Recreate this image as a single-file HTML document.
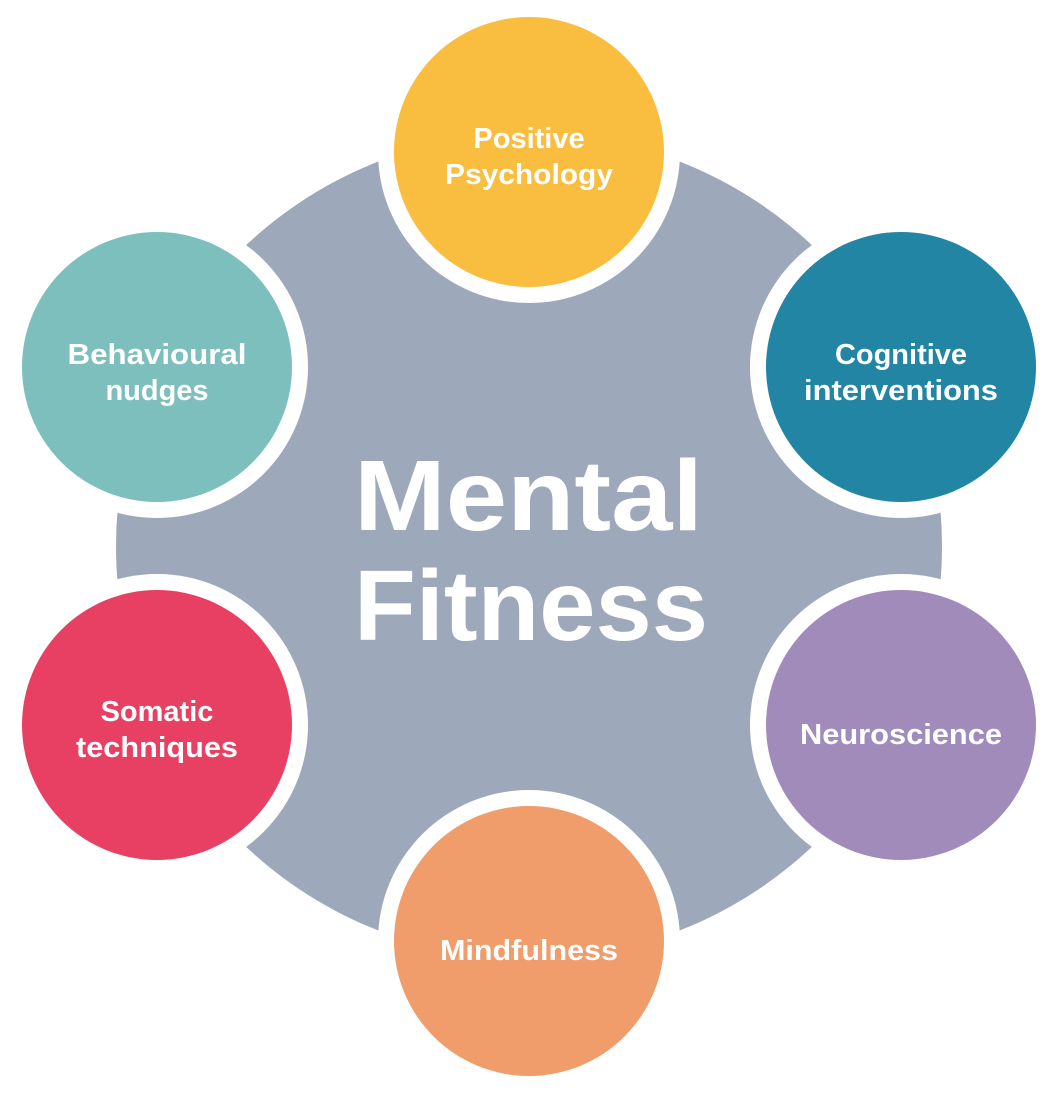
<!DOCTYPE html>
<html><head><meta charset="utf-8"><style>html,body{margin:0;padding:0;background:#fff}svg{display:block}</style></head>
<body>
<svg width="1059" height="1106" viewBox="0 0 1059 1106" xmlns="http://www.w3.org/2000/svg" font-family="Liberation Sans, sans-serif" font-weight="bold" fill="#fff">
<circle cx="529" cy="546" r="413" fill="#9DA9BB"/>
<g fill="#fff">
<circle cx="529" cy="152" r="151"/>
<circle cx="901" cy="367" r="151"/>
<circle cx="901" cy="725" r="151"/>
<circle cx="529" cy="941" r="151"/>
<circle cx="157" cy="725" r="151"/>
<circle cx="157" cy="367" r="151"/>
</g>
<circle cx="529" cy="152" r="135" fill="#F9BE40"/>
<circle cx="901" cy="367" r="135" fill="#2185A3"/>
<circle cx="901" cy="725" r="135" fill="#A08BBB"/>
<circle cx="529" cy="941" r="135" fill="#F09C6B"/>
<circle cx="157" cy="725" r="135" fill="#E84063"/>
<circle cx="157" cy="367" r="135" fill="#7DBFBC"/>
<g font-size="29" text-anchor="middle" fill="#fff">
<text x="529" y="148">Positive</text><text x="529" y="184" textLength="168" lengthAdjust="spacingAndGlyphs">Psychology</text>
<text x="901" y="364">Cognitive</text><text x="901" y="400" textLength="194" lengthAdjust="spacingAndGlyphs">interventions</text>
<text x="901" y="744" textLength="202" lengthAdjust="spacingAndGlyphs">Neuroscience</text>
<text x="529" y="960" textLength="178" lengthAdjust="spacingAndGlyphs">Mindfulness</text>
<text x="157" y="721">Somatic</text><text x="157" y="757" textLength="162" lengthAdjust="spacingAndGlyphs">techniques</text>
<text x="157" y="364" textLength="179" lengthAdjust="spacingAndGlyphs">Behavioural</text><text x="157" y="400">nudges</text>
</g>
<g font-size="100" fill="#fff">
<text x="354" y="530" textLength="349" lengthAdjust="spacingAndGlyphs">Mental</text>
<text x="354" y="640" textLength="354" lengthAdjust="spacingAndGlyphs">Fitness</text>
</g>
</svg>
</body></html>
